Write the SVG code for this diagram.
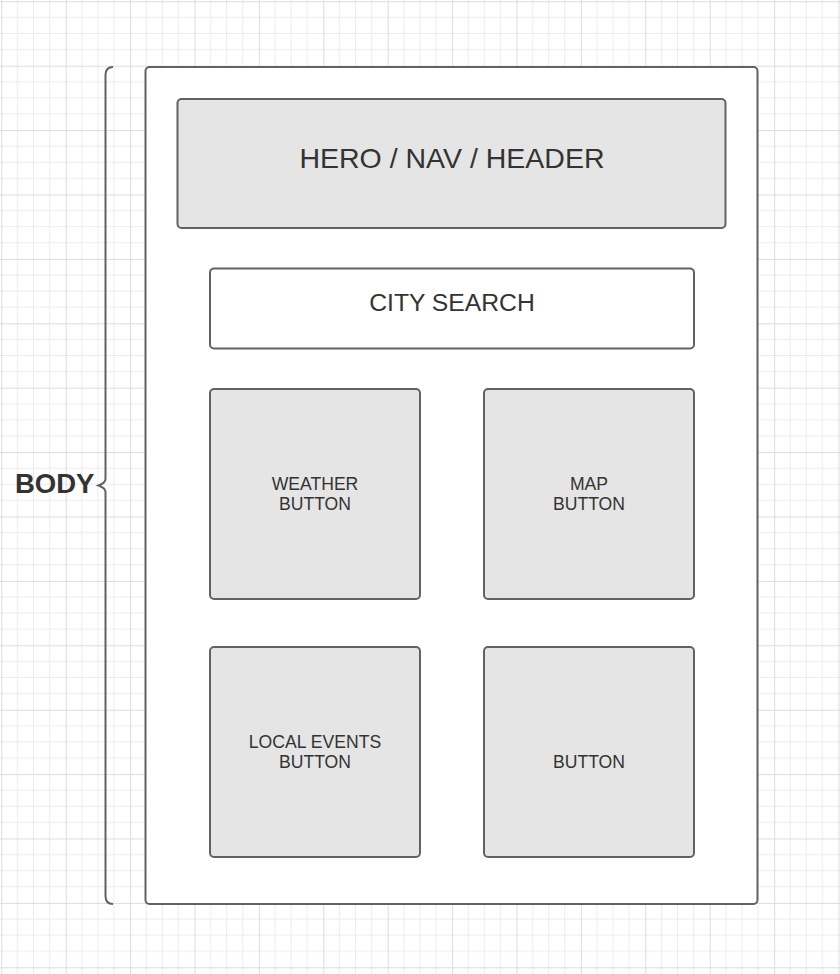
<svg xmlns="http://www.w3.org/2000/svg" width="840" height="974" viewBox="0 0 840 974">
  <defs>
    <pattern id="grid" x="1.3" y="1.3" width="64.4" height="64.4" patternUnits="userSpaceOnUse">
      <path d="M16.1 0V64.4M32.2 0V64.4M48.3 0V64.4M0 16.1H64.4M0 32.2H64.4M0 48.3H64.4" stroke="#ececec" stroke-width="1" fill="none"/>
      <path d="M0.5 0V64.4M0 0.5H64.4" stroke="#dcdcdc" stroke-width="1" fill="none"/>
    </pattern>
  </defs>
  <style>
    .box { stroke: #626262; stroke-width: 2; }
    .gray { fill: #e5e5e5; }
    .white { fill: #ffffff; }
    .t { font-family: "Liberation Sans", Arial, sans-serif; fill: #333333; text-anchor: middle; }
    .small { font-size: 17.6px; }
  </style>
  <rect x="0" y="0" width="840" height="974" fill="#ffffff"/>
  <rect x="0" y="0" width="840" height="974" fill="url(#grid)"/>

  <g id="body-brace">
    <path d="M113 67 Q105.5 67 105.5 75 V479 Q105.5 483 98.5 485.5 Q105.5 488 105.5 492 V896 Q105.5 904 113 904" fill="none" stroke="#626262" stroke-width="2"/>
    <text x="15" y="492.5" font-family="Liberation Sans, Arial, sans-serif" font-weight="bold" font-size="27.5" fill="#333333">BODY</text>
  </g>

  <g id="body">
    <rect class="box white" x="145.5" y="67" width="612" height="837" rx="4"/>
  </g>

  <g id="hero">
    <rect class="box gray" x="177.5" y="99" width="548" height="129" rx="4"/>
    <text class="t" x="452" y="167.5" font-size="28.5">HERO / NAV / HEADER</text>
  </g>

  <g id="city-search">
    <rect class="box white" x="210" y="268.5" width="484" height="80" rx="4"/>
    <text class="t" x="452" y="311" font-size="24.7">CITY SEARCH</text>
  </g>

  <g id="weather">
    <rect class="box gray" x="210" y="389" width="210" height="210" rx="4"/>
    <text class="t small" x="315" y="489.5">WEATHER</text>
    <text class="t small" x="315" y="509.5">BUTTON</text>
  </g>

  <g id="map">
    <rect class="box gray" x="484" y="389" width="210" height="210" rx="4"/>
    <text class="t small" x="589" y="489.5">MAP</text>
    <text class="t small" x="589" y="509.5">BUTTON</text>
  </g>

  <g id="local-events">
    <rect class="box gray" x="210" y="647" width="210" height="210" rx="4"/>
    <text class="t small" x="315" y="747.5">LOCAL EVENTS</text>
    <text class="t small" x="315" y="767.5">BUTTON</text>
  </g>

  <g id="button">
    <rect class="box gray" x="484" y="647" width="210" height="210" rx="4"/>
    <text class="t small" x="589" y="767.5">BUTTON</text>
  </g>

  <g id="connectors"></g>
</svg>
